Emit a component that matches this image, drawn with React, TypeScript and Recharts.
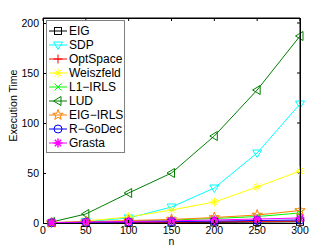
import React from 'react'
import { Legend, Line, LineChart, ReferenceLine, XAxis, YAxis } from 'recharts'

// problem size n
const sizes = [10, 50, 100, 150, 200, 250, 300]

// execution time per method
const eigTimes = [0.05, 0.1, 0.2, 0.4, 0.6, 0.9, 1.2]
const sdpTimes = [0.2, 1.5, 5, 16, 35, 70, 119]
const optSpaceTimes = [0.1, 0.3, 0.5, 0.8, 1.2, 1.6, 2]
const weiszfeldTimes = [0.1, 2, 6, 13, 21, 36, 52]
const l1IrlsTimes = [0.2, 0.8, 1.8, 3, 4.5, 6.5, 10]
const ludTimes = [1, 9, 30, 50, 87, 133, 187]
const eigIrlsTimes = [0.3, 1.2, 2.5, 3.5, 5.5, 8, 12.5]
const rGoDecTimes = [0.3, 0.6, 1, 1.4, 1.9, 2.5, 3]
const grastaTimes = [0.5, 1, 1.5, 2.2, 3, 4, 5]

const xTicks = [0, 50, 100, 150, 200, 250, 300]
const yTicks = [0, 50, 100, 150, 200]
const xDomain = [0, 300]
const yDomain = [0, 205]

const series = [
  { key: 'eig', name: 'EIG', color: '#000000', shape: 'square', values: eigTimes },
  { key: 'sdp', name: 'SDP', color: '#00FFFF', shape: 'triDown', values: sdpTimes },
  { key: 'optspace', name: 'OptSpace', color: '#FF0000', shape: 'plus', values: optSpaceTimes },
  { key: 'weiszfeld', name: 'Weiszfeld', color: '#FFFF00', shape: 'asterisk', values: weiszfeldTimes },
  { key: 'l1irls', name: 'L1\u2212IRLS', color: '#00FF00', shape: 'cross', values: l1IrlsTimes },
  { key: 'lud', name: 'LUD', color: '#007F00', shape: 'triLeft', values: ludTimes },
  { key: 'eigirls', name: 'EIG\u2212IRLS', color: '#FF8000', shape: 'pentagram', values: eigIrlsTimes },
  { key: 'rgodec', name: 'R\u2212GoDec', color: '#0000FF', shape: 'circle', values: rGoDecTimes },
  { key: 'grasta', name: 'Grasta', color: '#FF00FF', shape: 'asterisk', values: grastaTimes }
]

const data = sizes.map((n, i) => {
  const row: Record<string, number> = { n }
  series.forEach((s) => {
    row[s.key] = s.values[i]
  })
  return row
})

const FONT = '"Liberation Sans", Arial, Helvetica, sans-serif'

// layout
const W = 332
const H = 250
const MARGIN = { top: 18, right: 32, bottom: 0, left: 0 }
const X_AXIS_H = 27
const Y_AXIS_W = 43
const TICK = 3
// tick length on the top / right edges, in data units (about 3px)
const X_TICK_UNITS = 3.5
const Y_TICK_UNITS = 3

function marker(shape: string, cx: number, cy: number, color: string, key?: React.Key, width = 1) {
  const common = { stroke: color, strokeWidth: width, fill: 'none' }
  switch (shape) {
    case 'square':
      return <rect key={key} x={cx - 3.5} y={cy - 3.5} width={7} height={7} {...common} />
    case 'triDown':
      return (
        <polygon
          key={key}
          points={`${cx - 4.5},${cy - 3} ${cx + 4.5},${cy - 3} ${cx},${cy + 4.5}`}
          {...common}
        />
      )
    case 'triLeft':
      return (
        <polygon
          key={key}
          points={`${cx - 4.5},${cy} ${cx + 3},${cy - 4.5} ${cx + 3},${cy + 4.5}`}
          {...common}
        />
      )
    case 'plus':
      return <path key={key} d={`M${cx - 4.5},${cy}H${cx + 4.5}M${cx},${cy - 4.5}V${cy + 4.5}`} {...common} />
    case 'cross':
      return (
        <path
          key={key}
          d={`M${cx - 3.5},${cy - 3.5}L${cx + 3.5},${cy + 3.5}M${cx - 3.5},${cy + 3.5}L${cx + 3.5},${cy - 3.5}`}
          {...common}
        />
      )
    case 'asterisk':
      return (
        <path
          key={key}
          d={`M${cx - 4.5},${cy}H${cx + 4.5}M${cx},${cy - 4.5}V${cy + 4.5}M${cx - 3.2},${cy - 3.2}L${cx + 3.2},${cy + 3.2}M${cx - 3.2},${cy + 3.2}L${cx + 3.2},${cy - 3.2}`}
          {...common}
        />
      )
    case 'pentagram': {
      const pts: string[] = []
      for (let k = 0; k < 10; k++) {
        const r = k % 2 === 0 ? 5.5 : 2.2
        const a = -Math.PI / 2 + (k * Math.PI) / 5
        pts.push(`${cx + r * Math.cos(a)},${cy + r * Math.sin(a)}`)
      }
      return <polygon key={key} points={pts.join(' ')} {...common} />
    }
    case 'circle':
    default:
      return <circle key={key} cx={cx} cy={cy} r={4} {...common} />
  }
}

const lineStyle = { stroke: '#000', strokeWidth: 1, shapeRendering: 'crispEdges' as const }

const bottomTick = (props: any) => {
  const { x, y, payload } = props
  return (
    <g>
      <line x1={x} x2={x} y1={y} y2={y - TICK} {...lineStyle} />
      <text x={x} y={y + 11} textAnchor="middle" fontSize={10.5} fontFamily={FONT} fill="#000">
        {payload.value}
      </text>
    </g>
  )
}

const leftTick = (props: any) => {
  const { x, y, payload } = props
  return (
    <g>
      <line x1={x} x2={x + TICK} y1={y} y2={y} {...lineStyle} />
      <text x={x - 4} y={y} dy="0.35em" textAnchor="end" fontSize={10.5} fontFamily={FONT} fill="#000">
        {payload.value}
      </text>
    </g>
  )
}

const LegendBox = () => (
  <div
    style={{
      boxSizing: 'border-box',
      width: 79,
      border: '1px solid #808080',
      background: '#fff',
      padding: '3px 0 2px 1px',
      fontFamily: FONT,
      fontSize: 12,
      lineHeight: '14px'
    }}
  >
    {series.map((s) => (
      <div key={s.key} style={{ display: 'flex', alignItems: 'center', height: 14 }}>
        <svg width={21} height={14} style={{ display: 'block' }}>
          <line x1={1} x2={19} y1={7} y2={7} stroke={s.color} />
          {marker(s.shape, 10, 7, s.color, undefined, s.key === 'grasta' ? 1.5 : 1)}
        </svg>
        <span style={{ color: '#000', whiteSpace: 'nowrap' }}>{s.name}</span>
      </div>
    ))}
  </div>
)

export default function App() {
  const xMax = xDomain[1]
  const yMax = yDomain[1]
  return (
    <div style={{ position: 'absolute', left: 0, top: 0, width: W, height: H, background: '#fff' }}>
      <LineChart width={W} height={H} data={data} margin={MARGIN}>
        <XAxis
          dataKey="n"
          type="number"
          domain={xDomain}
          ticks={xTicks}
          height={X_AXIS_H}
          tickSize={0}
          tickMargin={0}
          tickLine={false}
          axisLine={lineStyle}
          tick={bottomTick}
          interval={0}
          label={{
            content: (p: any) => {
              const vb = p.viewBox || {}
              return (
                <text
                  x={vb.x + vb.width / 2}
                  y={vb.y + 22}
                  textAnchor="middle"
                  fontSize={10.5}
                  fontFamily={FONT}
                  fill="#000"
                >
                  n
                </text>
              )
            }
          }}
        />
        <YAxis
          type="number"
          domain={yDomain}
          ticks={yTicks}
          width={Y_AXIS_W}
          tickSize={0}
          tickMargin={0}
          tickLine={false}
          axisLine={lineStyle}
          tick={leftTick}
          interval={0}
          label={{
            content: (p: any) => {
              const vb = p.viewBox || {}
              const cx = 13
              const cy = vb.y + vb.height / 2 - 15
              return (
                <text
                  x={cx}
                  y={cy}
                  transform={`rotate(-90, ${cx}, ${cy})`}
                  dy="0.35em"
                  textAnchor="middle"
                  fontSize={10.5}
                  fontFamily={FONT}
                  fill="#000"
                >
                  Execution Time
                </text>
              )
            }
          }}
        />
        {/* top and right edges of the box, with inward ticks */}
        <ReferenceLine y={yMax} stroke="#000" ifOverflow="visible" />
        <ReferenceLine x={xMax} stroke="#000" ifOverflow="visible" />
        {xTicks.map((t) => (
          <ReferenceLine
            key={`tx${t}`}
            segment={[
              { x: t, y: yMax },
              { x: t, y: yMax - Y_TICK_UNITS }
            ]}
            stroke="#000"
            ifOverflow="visible"
          />
        ))}
        {yTicks.map((t) => (
          <ReferenceLine
            key={`ty${t}`}
            segment={[
              { x: xMax, y: t },
              { x: xMax - X_TICK_UNITS, y: t }
            ]}
            stroke="#000"
            ifOverflow="visible"
          />
        ))}
        {series.map((s) => (
          <Line
            key={s.key}
            type="linear"
            dataKey={s.key}
            name={s.name}
            stroke={s.color}
            strokeWidth={1}
            isAnimationActive={false}
            dot={(p: any) => marker(s.shape, p.cx, p.cy, s.color, p.index, s.key === 'grasta' ? 1.5 : 1)}
            activeDot={false}
          />
        ))}
        <Legend
          layout="vertical"
          align="center"
          verticalAlign="middle"
          content={() => <LegendBox />}
          wrapperStyle={{ left: 46, top: 20, width: 'auto', height: 'auto' }}
        />
      </LineChart>
      {/* frame of the axes box */}
      <div
        style={{
          position: 'absolute',
          left: Y_AXIS_W,
          top: MARGIN.top,
          width: W - MARGIN.right - Y_AXIS_W + 1,
          height: H - X_AXIS_H - MARGIN.top + 1,
          boxSizing: 'border-box',
          borderTop: '1px solid #000',
          borderRight: '1px solid #000',
          pointerEvents: 'none'
        }}
      />
    </div>
  )
}
